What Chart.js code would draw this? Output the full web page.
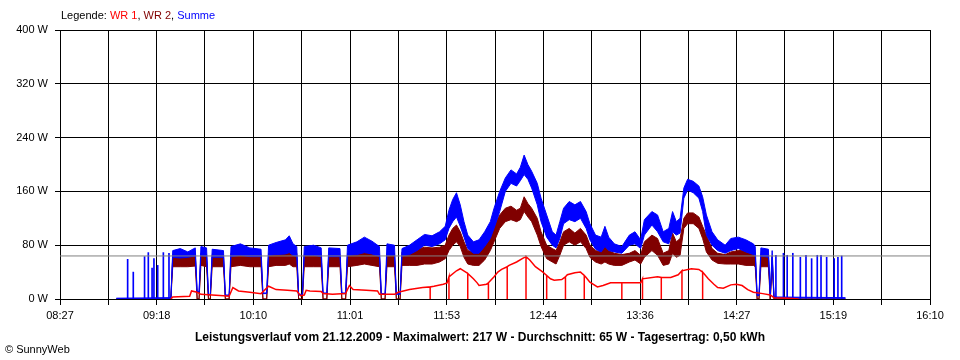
<!DOCTYPE html>
<html>
<head>
<meta charset="utf-8">
<script src="https://cdn.jsdelivr.net/npm/chart.js@4"></script>
<style>
  body { margin: 0; background: #fff; font-family: 'Liberation Sans', Arial, sans-serif; color: #000; }
  #wrap { position: relative; width: 960px; height: 360px; }
  #legend { position: absolute; left: 61px; top: 9px; font-size: 11px; }
  #title { position: absolute; left: 0; top: 330px; width: 960px; text-align: center; font-size: 12px; font-weight: bold; }
  #copy { position: absolute; left: 5px; top: 343px; font-size: 11px; }
</style>
</head>
<body>
<div id="wrap">
  <canvas id="chart" width="960" height="360"></canvas>
  <div id="legend">Legende: <span style="color:#ff0000">WR 1</span>, <span style="color:#800000">WR 2</span>, <span style="color:#0000ff">Summe</span></div>
  <div id="title">Leistungsverlauf vom 21.12.2009 - Maximalwert: 217 W - Durchschnitt: 65 W - Tagesertrag: 0,50 kWh</div>
  <div id="copy">&copy; SunnyWeb</div>
</div>
<script>
// x axis labels (every second grid line)
const xLabels = ['08:27','09:18','10:10','11:01','11:53','12:44','13:36','14:27','15:19','16:10'];
const yTicks = [0, 80, 160, 240, 320, 400];
const avgWatt = 64;

// WR 1 (red), drops to 0 written inline
const wr1Times = ['09:26','09:27','09:36','09:37','09:40','09:42','09:54','09:57','09:59','10:02','10:08','10:14','10:18','10:22','10:28','10:33','10:35','10:37','10:38','10:40','10:46','10:47','10:52','10:59','11:01','11:03','11:10','11:16','11:17','11:25','11:27','11:33','11:40',
  '11:44','11:44','11:44','11:46','11:51','11:53','11:54','11:54','11:54','11:58','12:00','12:04','12:04','12:04','12:07','12:09','12:10','12:14','12:15','12:15','12:15','12:18','12:20','12:22','12:25','12:25','12:25','12:26','12:30','12:33','12:35','12:35','12:35','12:37','12:40','12:44',
  '12:46','12:46','12:46','12:48','12:50','12:54','12:56','12:56','12:56','12:57','13:01','13:04','13:06','13:06','13:06','13:07','13:09','13:13','13:16','13:20','13:25','13:26','13:26','13:26','13:30','13:36','13:37','13:37','13:37','13:45',
  '13:47','13:47','13:47','13:52','13:56','13:58','13:58','13:58','14:03','14:07','14:09','14:09','14:09','14:12','14:15','14:17','14:20','14:24','14:27','14:30','14:33','14:36','14:41','14:45','14:47','14:55','15:00'];
const wr1 = [0,3,4,12,10,7,5,4,17,12,10,8,19,14,13,12,5,6,13,12,11,8,7,8,20,14,13,12,7,7,10,14,17,
  18,0,18,19,22,24,33,0,33,42,45,38,0,38,30,24,20,22,24,0,24,33,40,44,48,0,48,50,55,60,63,0,63,58,48,40,
  35,0,35,30,28,29,33,0,33,36,39,40,35,0,35,32,25,18,20,24,24,24,0,24,24,24,30,0,30,33,
  32,0,32,32,36,42,0,42,45,44,40,0,40,30,22,17,16,21,22,20,14,10,8,6,2,1,0];

// Summe (blue) and WR 2 (brown): lower / upper edge of the noisy band
const times = ['08:57','09:26','09:27','09:31','09:35','09:39','09:40','09:41','09:42','09:45','09:46','09:47','09:48','09:54','09:55','09:57','09:58','10:03','10:08','10:14','10:15','10:17','10:18','10:22','10:27','10:29','10:31','10:33','10:34','10:36',
  '10:37','10:42','10:46','10:47','10:49','10:50','10:56','10:57','10:59','11:00','11:05','11:09','11:13','11:17','11:18','11:20','11:21','11:25','11:26','11:28',
  '11:29','11:33','11:37','11:41','11:45','11:49','11:52','11:54','11:56','11:58','12:00','12:02','12:04','12:07','12:10','12:13','12:16','12:18','12:21','12:24',
  '12:27','12:30','12:32','12:34','12:36','12:38','12:41','12:43','12:46','12:49','12:51','12:53','12:55','12:58','13:01','13:04','13:07','13:09','13:12','13:15',
  '13:17','13:19','13:22','13:26','13:30','13:33','13:36','13:38','13:42','13:45','13:48','13:51','13:53','13:55','13:57','13:59','14:01','14:04','14:07','14:09',
  '14:11','14:14','14:17','14:21','14:24','14:28','14:32','14:36','14:37','14:38','14:39','14:40','14:44','14:45','14:46','14:47','15:25'];
const sumHi = [1,2,72,75,70,76,11,11,78,76,7,7,74,72,6,6,78,82,76,74,9,9,80,84,88,94,82,78,7,7,
  78,80,76,9,9,76,75,9,9,80,85,92,86,78,8,8,82,80,8,8,
  75,80,88,96,94,100,108,132,148,158,140,115,95,85,88,100,115,135,160,180,
  192,186,196,214,200,190,172,150,125,100,95,115,135,145,140,145,130,112,95,92,
  108,92,82,78,95,100,88,118,130,125,100,105,130,115,120,165,178,175,168,152,
  125,100,88,80,90,92,88,82,78,6,6,76,74,6,72,3,2];
const sumLo = [1,1,62,61,62,64,10,10,65,63,6,6,62,62,5,5,63,65,63,63,8,8,65,66,67,69,65,63,6,6,
  65,65,63,8,8,63,63,8,8,65,66,69,67,63,7,7,65,65,7,7,
  64,66,72,80,78,82,88,105,115,122,108,92,75,68,68,78,90,105,130,160,
  172,168,176,185,178,165,140,115,92,80,76,90,112,118,115,120,105,88,74,70,
  78,72,70,68,80,82,75,95,110,100,85,82,100,95,98,150,162,158,150,130,
  95,80,72,68,72,75,70,66,64,5,5,64,62,5,62,2,1];
const wr2Hi = [0,0,64,66,64,68,0,0,68,66,0,0,66,66,0,0,68,70,68,66,0,0,68,70,72,78,70,68,0,0,
  66,68,66,0,0,66,66,0,0,68,70,74,70,66,0,0,68,68,0,0,
  70,72,74,77,76,77,80,95,105,110,100,85,72,70,72,80,95,110,125,135,
  138,132,135,152,142,135,120,100,80,75,72,85,100,105,98,105,95,80,72,70,
  82,72,68,66,68,72,65,85,95,90,68,72,98,85,90,120,128,128,122,108,
  95,75,68,66,70,72,72,68,66,0,0,66,66,0,64,0,0];
const wr2Lo = [0,0,48,48,48,49,0,0,50,48,0,0,48,48,0,0,48,50,48,48,0,0,48,50,50,52,48,48,0,0,
  48,48,48,0,0,48,48,0,0,48,50,52,50,48,0,0,48,48,0,0,
  50,50,50,52,52,55,60,72,80,85,78,62,52,50,50,58,72,85,105,115,
  118,115,118,130,122,115,95,78,60,55,52,65,80,85,80,85,75,62,55,52,
  55,52,50,50,55,58,52,62,72,65,50,52,68,62,65,105,112,112,105,90,
  70,58,53,52,52,52,50,50,48,0,0,48,48,0,48,0,0];

// short Summe peaks in the morning and afternoon (WR 2 switching on and off)
const sumPeakTimes = ['09:03','09:06','09:12','09:14','09:16','09:17','09:19','09:22','09:25',
  '14:48','14:52','14:54','14:57','15:01','15:04','15:07','15:10','15:12','15:15','15:19','15:21','15:23'];
const sumPeaks = [59,40,63,69,46,60,50,69,68, 65,68,65,68,62,65,60,65,65,62,60,62,64];

const toMin = s => { const [h, m] = s.split(':'); return +h * 60 + +m; };
const pts = (ts, vs) => ts.map((t, i) => ({ x: toMin(t), y: vs[i] }));

const xMin = toMin(xLabels[0]);
const xMax = toMin(xLabels[xLabels.length - 1]);
const gridSteps = (xLabels.length - 1) * 2;

const line = (data, color, extra) => Object.assign({
  type: 'line', data, borderColor: color, backgroundColor: color,
  borderWidth: 1, pointRadius: 0, tension: 0, fill: false
}, extra || {});

const font = { family: "'Liberation Sans', Arial, sans-serif", size: 11 };

new Chart(document.getElementById('chart'), {
  type: 'line',
  data: {
    datasets: [
      line(pts([xLabels[0], xLabels[xLabels.length - 1]], [avgWatt, avgWatt]), '#808080'),
      line(pts(wr1Times, wr1), '#ff0000', { borderWidth: 1.5 }),
      line(pts(times, sumHi), '#0000ff', { fill: '+1' }),
      line(pts(times, sumLo), '#0000ff'),
      { type: 'bar', data: pts(sumPeakTimes, sumPeaks), backgroundColor: '#0000ff',
        borderWidth: 0, barThickness: 1 },
      line(pts(times, wr2Hi), '#800000', { fill: '+1' }),
      line(pts(times, wr2Lo), '#800000')
    ]
  },
  options: {
    responsive: false,
    animation: false,
    events: [],
    layout: { padding: { top: 30, right: 30, left: 0, bottom: 0 } },
    plugins: { legend: { display: false }, tooltip: { enabled: false }, title: { display: false } },
    scales: {
      x: {
        type: 'linear', min: xMin, max: xMax, offset: false,
        afterFit: s => { s.height = 61; },
        afterBuildTicks: s => {
          s.ticks = Array.from({ length: gridSteps + 1 }, (_, i) => ({ value: xMin + i * (xMax - xMin) / gridSteps }));
        },
        grid: { color: '#000', lineWidth: 1, tickLength: 6, offset: false },
        border: { color: '#000' },
        ticks: {
          autoSkip: false, maxRotation: 0, padding: 4, color: '#000', font,
          callback: (v, i) => (i % 2 === 0 ? xLabels[i / 2] : '')
        }
      },
      y: {
        min: 0, max: 400,
        afterFit: s => { s.width = 60; },
        afterBuildTicks: s => { s.ticks = yTicks.map(v => ({ value: v })); },
        grid: { color: '#000', lineWidth: 1, tickLength: 5 },
        border: { color: '#000' },
        ticks: { padding: 7, color: '#000', font, callback: v => v + ' W' }
      }
    }
  }
});
</script>
</body>
</html>
